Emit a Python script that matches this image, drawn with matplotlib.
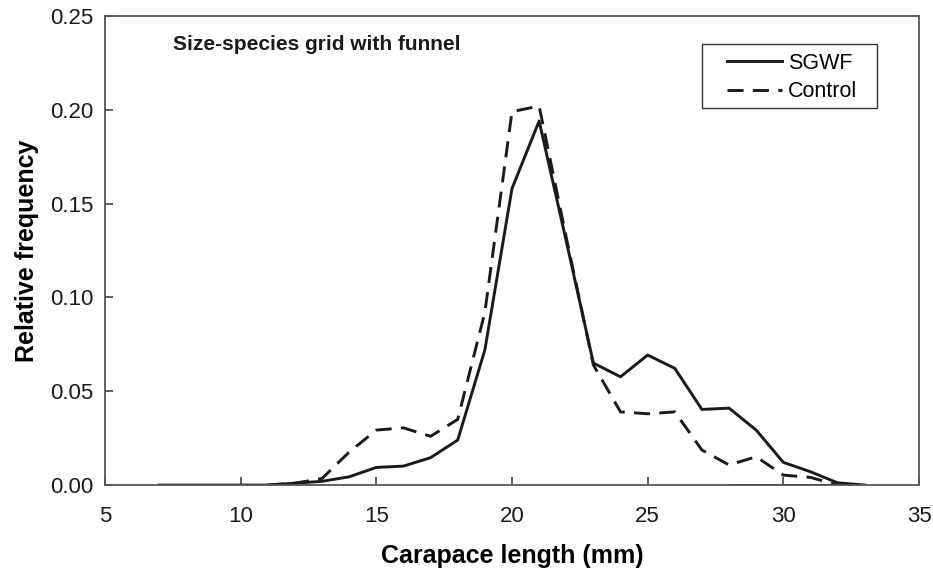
import matplotlib
matplotlib.use("Agg")
import matplotlib.pyplot as plt
from matplotlib.patches import Rectangle

plt.rcParams['font.family'] = ['Liberation Sans', 'DejaVu Sans']

# Data
sgwf_x = list(range(7, 34))
sgwf_y = [0, 0, 0, 0, 0, 0.001, 0.002, 0.0044, 0.0094, 0.0101, 0.0146, 0.024,
          0.072, 0.158, 0.194, 0.13, 0.065, 0.0577, 0.0693, 0.0622, 0.0403,
          0.041, 0.0293, 0.0121, 0.0071, 0.0012, 0]
control_x = list(range(11, 33))
control_y = [0, 0.001, 0.0035, 0.0176, 0.0293, 0.0305, 0.026, 0.035, 0.092,
             0.199, 0.202, 0.132, 0.064, 0.039, 0.038, 0.039, 0.0187, 0.0107,
             0.0151, 0.0053, 0.0041, 0]
base_x = [28, 33]
base_y = [0, 0]

x_ticks = [5, 10, 15, 20, 25, 30, 35]
y_ticks = [0.00, 0.05, 0.10, 0.15, 0.20, 0.25]
y_tick_labels = ['0.00', '0.05', '0.10', '0.15', '0.20', '0.25']

fig = plt.figure(figsize=(9.33, 5.70), dpi=100)
ax = fig.add_axes([0.1125, 0.149, 0.8725, 0.823])

lw = 2.1
ax.plot(sgwf_x, sgwf_y, color='#1a1a1a', lw=lw, label='SGWF')
ax.plot(control_x, control_y, color='#1a1a1a', lw=lw, linestyle=(0, (5.5, 3.2)),
        label='Control')
ax.plot(base_x, base_y, color='#1a1a1a', lw=lw, label='_nolegend_')

ax.set_xlim(5, 35)
ax.set_ylim(0, 0.25)
ax.set_xticks(x_ticks)
ax.set_yticks(y_ticks)
ax.set_yticklabels(y_tick_labels)
ax.tick_params(direction='in', length=6, width=1.2, colors='#444444',
               labelsize=16, labelcolor='#1a1a1a')
ax.tick_params(axis='y', pad=8.5)
ax.tick_params(axis='x', pad=15)
for s in ax.spines.values():
    s.set_color('#555555')
    s.set_linewidth(1.3)

ax.set_xlabel('Carapace length (mm)', fontsize=18, fontweight='bold', labelpad=12)
ax.set_ylabel('Relative frequency', fontsize=18, fontweight='bold', labelpad=8)

ax.text(0.083, 0.94, 'Size-species grid with funnel', transform=ax.transAxes,
        fontsize=15, fontweight='bold', ha='left', va='center', color='#1a1a1a')

leg = ax.legend(loc='upper left', bbox_to_anchor=(0.764, 0.922), fontsize=15.5,
                frameon=False, handlelength=2.55, handletextpad=0.3,
                borderpad=0, labelspacing=0.36, borderaxespad=0)
ax.add_patch(Rectangle((0.733, 0.804), 0.215, 0.136, transform=ax.transAxes,
                       fill=False, edgecolor='#333333', lw=1.0, zorder=5))

fig.savefig('out.png', dpi=100)
